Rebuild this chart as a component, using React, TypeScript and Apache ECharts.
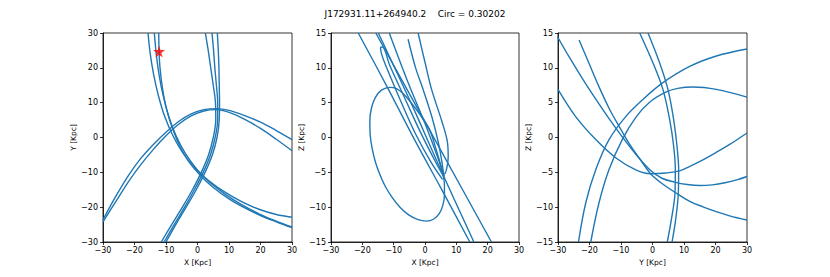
import React, { useEffect, useRef } from "react";
import * as echarts from "echarts";

const titleText = "J172931.11+264940.2    Circ = 0.30202";
const panelXNames = ["X [Kpc]", "X [Kpc]", "Y [Kpc]"];
const panelYNames = ["Y [Kpc]", "Z [Kpc]", "Z [Kpc]"];
const xRange = [-30, 30];
const yRanges = [[-30, 30], [-15, 15], [-15, 15]];
const yIntervals = [10, 5, 5];

// Panel 1: X vs Y
const xyArcOuter = [[-30,-23.6],[-26,-17],[-22,-11],[-18,-6],[-14,-2],[-10,1.5],[-6,4.6],[-2,6.8],[2,8],[6,8.3],[10,7.8],[15,6.3],[20,4.4],[25,2.0],[30,-0.6]];
const xyArcInner = [[-30,-24.2],[-26,-18.5],[-22,-12.8],[-18,-7.8],[-14,-3.4],[-10,0.5],[-6,3.8],[-2,6.2],[2,7.6],[6,8.0],[10,7.2],[15,5.2],[20,2.6],[25,-0.5],[30,-3.8]];
const xyFallA = [[-15.7,30],[-15.0,24],[-13.9,18],[-12.4,12],[-10.4,6],[-7.8,0.5],[-4.6,-4.5],[-0.8,-8.8],[3.6,-12.4],[8.6,-15.6],[14,-18.4],[19.5,-20.6],[25,-22.1],[30,-22.9]];
const xyFallB = [[-13.7,30],[-13.1,24],[-12.2,18],[-10.9,12],[-9.1,6],[-6.8,0.5],[-3.9,-4.5],[-0.3,-9],[3.8,-12.8],[8.6,-16.2],[14,-19.3],[19.5,-21.9],[25,-24],[30,-25.7]];
const xyFallC = [[-12.3,30],[-12.2,24.7],[-11.9,20],[-11.1,14],[-9.8,8],[-7.9,2.5],[-5.6,-2.5],[-2.7,-7],[1,-11],[5.2,-14.5],[10,-17.6],[15,-20.2],[20,-22.4],[25,-24.2],[30,-25.9]];
const xyDropA = [[-11.5,-30],[-8.2,-25],[-4.8,-20],[-1.6,-15],[1.2,-10],[3.5,-5],[5.0,0],[5.8,5],[5.7,10],[5.0,15],[4.2,20],[3.4,25],[2.5,30]];
const xyDropB = [[-10.6,-30],[-7.4,-25],[-4.1,-20],[-1.0,-15],[1.8,-10],[4.1,-5],[5.6,0],[6.4,5],[6.4,10],[6.0,15],[5.5,20],[5.1,25],[4.6,30]];
const xyDropC = [[-10.0,-30],[-6.9,-25],[-3.6,-20],[-0.4,-15],[2.4,-10],[4.7,-5],[6.2,0],[6.9,5],[7.0,10],[6.9,15],[6.8,20],[6.6,25],[6.3,30]];
const starPoint = [[-12.2, 24.7]];

// Panel 2: X vs Z
const xzLineA = [[-21.3,15],[-12,7.2],[-3,-0.6],[5,-7.2],[14.3,-15]];
const xzLineB = [[-15.7,15],[-5,6.3],[5.5,-2.2],[21.2,-15]];
const xzLineC = [[-14.9,15],[-4,4.5],[5,-4.6],[15.6,-15]];
const xzLineD = [[-11.4,15],[-5.5,8],[0,2],[4.5,-3.4],[6.2,-5.6]];
const xzHairpin = [[5.6,-6.0],[2,-3.6],[-3,0.5],[-8,5.5],[-12.5,10.3],[-13.8,11.9],[-14.2,12.9],[-13.6,13.0],[-11.2,10.3],[-6.3,5.5],[-1.5,0.8],[3,-3.2],[5.9,-5.6]];
const xzLoop = [[1.5,1.1],[-1.6,3.3],[-4.8,5.2],[-7,6.3],[-9.1,7.0],[-11.2,7.2],[-13.9,6.8],[-15.9,5.7],[-17.1,4.2],[-17.6,2.4],[-17.5,0.4],[-16.9,-1.5],[-15.9,-3.4],[-14.5,-5.2],[-12.7,-7.0],[-10.5,-8.6],[-8,-10],[-5.2,-11.1],[-2.2,-11.8],[0.5,-12.0],[2.8,-11.7],[4.6,-10.9],[5.7,-9.7],[6.2,-8.2],[6.2,-6.8],[5.7,-5.2],[4.6,-3.3],[3.2,-1.2],[1.5,1.1],[-1.6,3.3]];
const xzNarrow = [[-5.4,14.1],[-3,10],[-0.6,6.9],[2.3,2.8],[4.3,-0.8],[5.4,-3.5],[5.9,-5.0],[6.3,-5.2],[7.0,-4.3],[7.4,-2.8],[7.1,-0.5],[5.4,2.3],[2.1,6.9],[0,10.8],[-2.2,15]];

// Panel 3: Y vs Z
const yzSteepA = [[-4.07,15],[0.16,10.7],[3.33,6.87],[5.45,2.56],[6.72,-1.26],[7.25,-4.6],[7.14,-7.97],[5.98,-11.8],[4.7,-15]];
const yzSteepB = [[-1.43,15],[2.28,10.7],[4.92,6.87],[6.72,2.56],[7.78,-1.26],[8.3,-4.6],[8.2,-7.97],[7.35,-11.8],[6.2,-15]];
const yzRiseA = [[-23.5,-15],[-21.2,-9.4],[-18,-4.6],[-13.8,-0.3],[-8.5,3.0],[-3.2,5.4],[3.1,7.8],[11.8,10.2],[20.3,11.7],[30,12.7]];
const yzRiseB = [[-19.6,-15],[-17,-9.4],[-13.8,-4.6],[-9.6,-0.3],[-5.3,2.9],[-1.1,5.0],[4.2,6.5],[8,7.05],[12.9,7.25],[20.3,6.9],[30,5.8]];
const yzSwoopA = [[-30.2,14.5],[-26.5,11.6],[-22.3,8.5],[-18,5.5],[-13.8,2.7],[-9.6,0.1],[-5.3,-2.4],[-0.6,-4.75],[3,-5.85],[7,-6.4],[11,-6.75],[15,-6.9],[19,-6.8],[23,-6.5],[27,-6.05],[30,-5.6]];
const yzSwoopB = [[-23.3,14],[-20.2,10.7],[-17,7.3],[-13.8,4.2],[-10.6,1.6],[-7.5,-0.8],[-4.3,-2.9],[-0.6,-5.2],[3,-6.6],[7.6,-8.0],[12,-9.2],[16,-9.95],[20,-10.6],[24.5,-11.25],[30,-11.85]];
const yzSwoopC = [[-30,6.9],[-24.4,3.0],[-18,-0.3],[-11.7,-2.9],[-5.3,-4.65],[-0.6,-5.2],[4.3,-5.1],[8.6,-4.8],[12,-4.1],[16,-3.2],[20,-2.2],[24.5,-1.0],[30,0.65]];

const panelCurves = [
  [xyArcOuter, xyArcInner, xyFallA, xyFallB, xyFallC, xyDropA, xyDropB, xyDropC],
  [xzLineA, xzLineB, xzLineC, xzLineD, xzHairpin, xzLoop, xzNarrow],
  [yzSteepA, yzSteepB, yzRiseA, yzRiseB, yzSwoopA, yzSwoopB, yzSwoopC],
];

const gridBoxes = [
  { left: 103, top: 33, width: 189, height: 209 },
  { left: 331, top: 33, width: 188, height: 209 },
  { left: 558, top: 33, width: 189, height: 209 },
];

const FONT = "DejaVu Sans";
const LINE = "#1f77b4";
const STAR_PATH = "path://M50,0 L61,35 L98,35 L68,57 L79,91 L50,70 L21,91 L32,57 L2,35 L39,35 Z";

const fmt = (v: number) => String(v).replace("-", "\u2212");

export default function App() {
  const ref = useRef<HTMLDivElement>(null);
  useEffect(() => {
    document.body.style.margin = "0";
    if (!ref.current) return;
    const chart = echarts.init(ref.current, undefined, { renderer: "svg" });
    const axisCommon = {
      axisLine: { show: true, onZero: false, lineStyle: { color: "#000", width: 0.8 } },
      axisTick: { show: true, inside: false, length: 3, lineStyle: { color: "#000", width: 0.8 } },
      splitLine: { show: false },
      nameLocation: "middle" as const,
      nameTextStyle: { fontFamily: FONT, fontSize: 7.5, color: "#000" },
    };
    const xAxis = gridBoxes.map((_, i) => ({
      type: "value",
      gridIndex: i,
      min: xRange[0],
      max: xRange[1],
      interval: 10,
      name: panelXNames[i],
      nameGap: 14,
      ...axisCommon,
      axisLabel: { fontFamily: FONT, fontSize: 8, color: "#000", margin: 4, formatter: fmt },
    }));
    const yAxis = gridBoxes.map((_, i) => ({
      type: "value",
      gridIndex: i,
      min: yRanges[i][0],
      max: yRanges[i][1],
      interval: yIntervals[i],
      name: panelYNames[i],
      nameGap: 23,
      ...axisCommon,
      axisLabel: { fontFamily: FONT, fontSize: 8, color: "#000", margin: 5, formatter: fmt },
    }));
    const series: any[] = [];
    panelCurves.forEach((curves, i) => {
      curves.forEach((c) => {
        series.push({
          type: "line",
          xAxisIndex: i,
          yAxisIndex: i,
          data: c,
          showSymbol: false,
          symbol: "none",
          smooth: c === xzLoop ? 0.3 : 0.35,
          clip: true,
          lineStyle: { color: LINE, width: 1.4 },
          silent: true,
        });
      });
    });
    series.push({
      type: "scatter",
      xAxisIndex: 0,
      yAxisIndex: 0,
      data: starPoint,
      symbol: STAR_PATH,
      symbolSize: 12,
      itemStyle: { color: "#ff0000" },
      z: 10,
    });
    chart.setOption({
      animation: false,
      backgroundColor: "#fff",
      title: {
        text: titleText,
        left: "center",
        top: 4,
        textStyle: { fontFamily: FONT, fontSize: 9, fontWeight: "normal", color: "#000" },
      },
      grid: gridBoxes.map((g) => ({ ...g, show: true, borderColor: "#000", borderWidth: 0.8, backgroundColor: "transparent", containLabel: false })),
      xAxis,
      yAxis,
      series,
    });
    return () => chart.dispose();
  }, []);
  return <div ref={ref} style={{ width: 830, height: 277 }} />;
}
